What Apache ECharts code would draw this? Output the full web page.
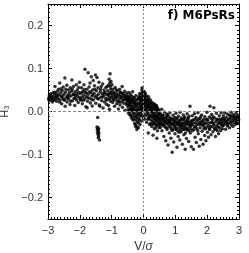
<!DOCTYPE html>
<html><head><meta charset="utf-8">
<script src="https://cdn.jsdelivr.net/npm/echarts@6/dist/echarts.min.js"></script>
<style>html,body{margin:0;padding:0;background:#fff}#c{width:249px;height:253px}</style>
</head><body><div id="c"></div>
<script>
// Data: [V/sigma, H3]
const farLeftBand = [[-2.98,0.030],[-2.96,0.036],[-2.95,0.025],[-2.93,0.033],[-2.91,0.041],[-2.9,0.028],[-2.88,0.035],[-2.86,0.022],[-2.85,0.031],[-2.83,0.044],[-2.81,0.038],[-2.8,0.027],[-2.78,0.058],[-2.77,0.033],[-2.75,0.041],[-2.73,0.024],[-2.72,0.036],[-2.7,0.047],[-2.68,0.03],[-2.67,0.052],[-2.65,0.039],[-2.63,0.066],[-2.62,0.027],[-2.6,0.044],[-2.58,0.035],[-2.57,0.018],[-2.55,0.049],[-2.53,0.031],[-2.52,0.057],[-2.5,0.04],[-2.48,0.026],[-2.47,0.078],[-2.46,0.012],[-2.45,0.045],[-2.43,0.034],[-2.41,0.061],[-2.4,0.022],[-2.38,0.038],[-2.36,0.05],[-2.35,0.029],[-2.33,0.043],[-2.31,0.016],[-2.3,0.055],[-2.28,0.036],[-2.26,0.047],[-2.25,0.073],[-2.23,0.025],[-2.21,0.04],[-2.2,0.058],[-2.18,0.031],[-2.16,0.014],[-2.15,0.046],[-2.13,0.037],[-2.11,0.062],[-2.1,0.027],[-2.08,0.05],[-2.06,0.035],[-2.05,0.021],[-2.03,0.044],[-2.01,0.068],[-2.0,0.032]];
const leftBand = [[-1.98,0.041],[-1.97,0.026],[-1.95,0.055],[-1.93,0.033],[-1.92,0.018],[-1.9,0.047],[-1.88,0.038],[-1.87,0.062],[-1.85,0.029],[-1.84,0.098],[-1.83,0.044],[-1.81,0.011],[-1.8,0.035],[-1.78,0.052],[-1.77,0.009],[-1.76,0.024],[-1.74,0.09],[-1.73,0.04],[-1.71,0.057],[-1.7,0.031],[-1.68,0.066],[-1.67,0.02],[-1.65,0.045],[-1.64,0.081],[-1.62,0.036],[-1.61,0.013],[-1.6,0.05],[-1.58,0.072],[-1.57,0.027],[-1.55,0.042],[-1.54,0.06],[-1.52,0.034],[-1.51,0.085],[-1.5,0.019],[-1.48,0.048],[-1.46,0.079],[-1.45,0.03],[-1.43,0.055],[-1.42,0.04],[-1.4,0.068],[-1.39,0.015],[-1.37,0.012],[-1.36,0.046],[-1.34,0.033],[-1.33,0.058],[-1.31,0.025],[-1.3,0.041],[-1.28,0.064],[-1.27,0.008],[-1.25,0.037],[-1.24,0.05],[-1.22,0.022],[-1.21,0.043],[-1.19,0.031],[-1.18,0.056],[-1.16,0.017],[-1.15,0.039],[-1.13,0.048],[-1.12,0.028],[-1.1,0.061],[-1.09,0.035],[-1.07,0.005],[-1.06,0.044],[-1.05,0.088],[-1.04,0.024],[-1.03,0.052],[-1.02,0.07],[-1.01,0.033],[-1.08,0.075],[-1.06,0.066],[-1.04,0.058],[-1.0,0.045],[-0.99,0.062],[-1.1,0.014]];
const innerLeftBand = [[-0.98,0.038],[-0.97,0.021],[-0.96,0.052],[-0.94,0.03],[-0.93,0.045],[-0.91,0.012],[-0.9,0.036],[-0.89,0.056],[-0.87,0.027],[-0.86,0.041],[-0.84,0.018],[-0.83,0.033],[-0.82,0.048],[-0.8,0.024],[-0.79,0.006],[-0.78,0.039],[-0.76,0.029],[-0.75,0.052],[-0.74,0.015],[-0.72,0.035],[-0.71,0.044],[-0.7,0.022],[-0.68,0.031],[-0.67,0.058],[-0.66,0.01],[-0.64,0.026],[-0.63,0.04],[-0.62,0.019],[-0.6,0.034],[-0.59,0.047],[-0.58,0.003],[-0.56,0.028],[-0.55,0.038],[-0.54,0.016],[-0.52,0.043],[-0.51,0.025],[-0.5,0.032]];
const coreNegative = [[-0.49,0.011],[-0.48,0.036],[-0.47,-0.004],[-0.46,0.024],[-0.45,0.044],[-0.44,0.017],[-0.43,0.03],[-0.42,-0.009],[-0.41,0.006],[-0.4,0.039],[-0.39,0.021],[-0.38,-0.015],[-0.37,0.012],[-0.36,0.028],[-0.35,0.002],[-0.34,0.046],[-0.33,-0.02],[-0.32,0.016],[-0.31,0.033],[-0.3,-0.006],[-0.29,0.009],[-0.28,-0.028],[-0.27,0.024],[-0.26,0.001],[-0.25,-0.035],[-0.24,0.037],[-0.23,-0.012],[-0.22,0.014],[-0.21,-0.042],[-0.2,0.005],[-0.19,-0.024],[-0.18,0.029],[-0.17,-0.008],[-0.16,-0.038],[-0.15,0.019],[-0.14,-0.017],[-0.13,0.008],[-0.12,0.042],[-0.11,-0.03],[-0.1,0.022],[-0.09,-0.004],[-0.08,0.034],[-0.07,0.013],[-0.06,-0.022],[-0.05,0.05],[-0.04,0.026],[-0.03,-0.01],[-0.02,0.04],[-0.01,0.003],[0.0,0.018],[-0.47,0.027],[-0.44,0.003],[-0.41,0.025],[-0.38,0.007],[-0.35,0.022],[-0.32,-0.003],[-0.29,0.02],[-0.26,0.012],[-0.23,0.003],[-0.2,-0.015],[-0.18,0.011],[-0.15,-0.004],[-0.13,0.027],[-0.11,0.005],[-0.09,0.013],[-0.07,-0.01],[-0.05,0.008],[-0.04,0.031],[-0.03,0.045],[-0.02,0.017],[-0.01,0.028],[-0.24,-0.02],[-0.16,0.032],[-0.12,-0.01],[-0.08,0.0],[-0.06,0.024]];
const corePositive = [[0.01,0.047],[0.02,0.012],[0.03,-0.018],[0.04,0.033],[0.05,0.004],[0.06,0.041],[0.07,-0.01],[0.08,0.022],[0.09,0.036],[0.1,-0.025],[0.11,0.009],[0.12,0.027],[0.13,-0.004],[0.14,0.015],[0.15,0.035],[0.16,-0.016],[0.17,0.002],[0.18,0.021],[0.19,-0.03],[0.2,0.011],[0.21,-0.008],[0.22,0.026],[0.23,-0.02],[0.24,0.004],[0.25,0.016],[0.26,-0.035],[0.27,-0.002],[0.28,0.02],[0.29,-0.014],[0.3,0.007],[0.31,-0.026],[0.32,0.013],[0.33,-0.006],[0.34,-0.04],[0.35,0.017],[0.36,-0.018],[0.37,0.002],[0.38,-0.03],[0.39,0.009],[0.4,-0.011],[0.41,0.012],[0.42,-0.022],[0.43,-0.005],[0.44,-0.045],[0.45,0.006],[0.46,-0.015],[0.47,-0.03],[0.48,0.001],[0.49,-0.023],[0.5,-0.008],[0.02,0.03],[0.05,0.022],[0.08,0.005],[0.11,0.018],[0.14,-0.008],[0.17,0.03],[0.2,-0.012],[0.23,0.01],[0.26,0.003],[0.29,-0.022],[0.32,-0.01],[0.35,-0.027],[0.38,0.0],[0.41,-0.033],[0.44,-0.012],[0.47,0.004],[0.15,-0.05],[0.3,-0.055],[0.42,-0.062],[0.36,0.012],[0.4,0.014]];
const rightBand = [[0.51,-0.02],[0.52,-0.004],[0.53,-0.037],[0.55,-0.012],[0.56,-0.026],[0.57,0.005],[0.58,-0.045],[0.6,-0.017],[0.61,-0.031],[0.62,-0.008],[0.64,-0.058],[0.65,-0.022],[0.66,-0.001],[0.68,-0.036],[0.69,-0.015],[0.7,-0.068],[0.71,-0.027],[0.73,-0.006],[0.74,-0.042],[0.75,-0.019],[0.77,-0.078],[0.78,-0.03],[0.79,-0.011],[0.81,-0.05],[0.82,-0.023],[0.83,-0.003],[0.85,-0.036],[0.86,-0.062],[0.87,-0.016],[0.89,-0.028],[0.9,-0.095],[0.91,-0.044],[0.93,-0.009],[0.94,-0.021],[0.95,-0.071],[0.97,-0.034],[0.98,-0.014],[0.99,-0.052],[1.01,-0.025],[1.02,-0.004],[1.03,-0.04],[1.05,-0.083],[1.06,-0.018],[1.07,-0.03],[1.09,-0.058],[1.1,-0.011],[1.11,-0.038],[1.13,-0.022],[1.14,-0.066],[1.15,-0.002],[1.17,-0.033],[1.18,-0.047],[1.19,-0.015],[1.21,-0.027],[1.22,-0.076],[1.23,-0.041],[1.25,-0.008],[1.26,-0.02],[1.27,-0.054],[1.29,-0.031],[1.3,-0.013],[1.31,-0.088],[1.33,-0.037],[1.34,-0.024],[1.35,-0.063],[1.37,-0.005],[1.38,-0.043],[1.39,-0.018],[1.41,-0.029],[1.42,-0.07],[1.43,-0.011],[1.45,-0.035],[1.46,0.012],[1.47,-0.05],[1.49,-0.022],[1.5,-0.082],[0.54,-0.028],[0.59,-0.01],[0.63,-0.033],[0.67,-0.02],[0.72,-0.038],[0.76,-0.008],[0.8,-0.025],[0.84,-0.016],[0.88,-0.042],[0.92,-0.03],[0.96,-0.02],[1.0,-0.035],[1.04,-0.015],[1.08,-0.025],[1.12,-0.048],[1.16,-0.02],[1.2,-0.036],[1.24,-0.028],[1.28,-0.016],[1.32,-0.05],[1.36,-0.03],[1.4,-0.04],[1.44,-0.025],[1.48,-0.033]];
const outerRightBand = [[1.51,-0.03],[1.53,-0.01],[1.54,-0.045],[1.56,-0.02],[1.57,-0.088],[1.59,-0.035],[1.6,-0.005],[1.62,-0.06],[1.63,-0.026],[1.65,-0.014],[1.66,-0.072],[1.68,-0.04],[1.69,-0.022],[1.71,-0.003],[1.72,-0.052],[1.74,-0.03],[1.75,-0.081],[1.77,-0.016],[1.78,-0.038],[1.8,-0.065],[1.81,-0.024],[1.83,-0.008],[1.84,-0.046],[1.86,-0.031],[1.87,-0.076],[1.89,-0.018],[1.9,-0.04],[1.92,-0.056],[1.93,-0.012],[1.95,-0.028],[1.96,-0.068],[1.98,-0.036],[1.99,-0.002],[2.01,-0.048],[2.02,-0.021],[2.04,-0.06],[2.05,-0.033],[2.07,-0.013],[2.08,-0.042],[2.09,0.012],[2.11,-0.026],[2.12,-0.054],[2.14,-0.007],[2.15,-0.035],[2.17,-0.019],[2.18,-0.047],[2.2,-0.028],[2.21,0.009],[2.23,-0.039],[2.24,-0.015],[2.26,-0.058],[2.27,-0.024],[2.29,-0.004],[2.3,-0.033],[2.32,-0.045],[2.33,-0.018],[2.35,-0.028],[2.36,-0.052],[2.38,-0.01],[2.39,-0.037],[2.41,-0.022],[2.42,-0.044],[2.44,-0.003],[2.45,-0.03],[2.47,-0.016],[2.48,-0.04],[2.5,-0.025],[1.55,-0.028],[1.64,-0.036],[1.73,-0.018],[1.82,-0.03],[1.91,-0.026],[2.0,-0.018],[2.1,-0.036],[2.19,-0.012],[2.28,-0.04],[2.37,-0.026],[2.46,-0.02]];
const edgeRightBand = [[2.51,-0.01],[2.52,-0.032],[2.54,-0.02],[2.55,-0.003],[2.57,-0.027],[2.58,-0.041],[2.6,-0.014],[2.61,-0.024],[2.63,-0.006],[2.64,-0.034],[2.66,-0.019],[2.67,-0.028],[2.69,-0.009],[2.7,-0.038],[2.72,-0.016],[2.73,-0.025],[2.75,-0.002],[2.76,-0.031],[2.78,-0.012],[2.79,-0.021],[2.81,-0.035],[2.82,-0.007],[2.84,-0.018],[2.85,-0.026],[2.87,-0.011],[2.88,-0.03],[2.9,-0.016],[2.91,-0.004],[2.93,-0.023],[2.94,-0.013],[2.96,-0.028],[2.97,-0.009],[2.99,-0.019]];
const outlierClump = [[-1.44,-0.014],[-1.46,-0.036],[-1.43,-0.038],[-1.41,-0.04],[-1.45,-0.042],[-1.42,-0.045],[-1.44,-0.048],[-1.4,-0.05],[-1.43,-0.053],[-1.41,-0.057],[-1.42,-0.061],[-1.38,-0.066]];
const fillLeft = [[-2.97,0.027],[-2.94,0.039],[-2.89,0.032],[-2.84,0.026],[-2.79,0.045],[-2.74,0.031],[-2.69,0.038],[-2.64,0.022],[-2.59,0.053],[-2.56,0.036],[-2.51,0.028],[-2.44,0.052],[-2.39,0.031],[-2.34,0.036],[-2.29,0.024],[-2.24,0.052],[-2.19,0.039],[-2.14,0.03],[-2.09,0.041],[-2.04,0.056],[-1.99,0.029],[-1.94,0.044],[-1.89,0.026],[-1.86,0.051],[-1.79,0.043],[-1.75,0.032],[-1.69,0.046],[-1.63,0.028],[-1.59,0.039],[-1.53,0.052],[-1.47,0.036],[-1.41,0.029],[-1.35,0.052],[-1.29,0.034],[-1.23,0.044],[-1.17,0.027],[-1.14,0.058],[-1.11,0.04],[-1.05,0.03],[-1.03,0.042],[-0.95,0.026],[-0.92,0.041],[-0.88,0.033],[-0.85,0.05],[-0.81,0.038],[-0.77,0.022],[-0.73,0.045],[-0.69,0.036],[-0.65,0.042],[-0.61,0.028],[-0.57,0.035],[-0.53,0.02]];
const fillCore = [[-0.495,0.03],[-0.485,0.004],[-0.465,0.015],[-0.455,0.033],[-0.435,-0.002],[-0.425,0.021],[-0.405,0.013],[-0.395,-0.008],[-0.375,0.035],[-0.365,0.004],[-0.345,-0.012],[-0.335,0.026],[-0.315,0.006],[-0.305,-0.018],[-0.285,0.031],[-0.275,-0.011],[-0.255,0.019],[-0.245,-0.03],[-0.225,0.026],[-0.215,-0.005],[-0.195,-0.036],[-0.185,0.018],[-0.165,0.002],[-0.155,-0.026],[-0.135,0.036],[-0.125,-0.02],[-0.105,0.031],[-0.095,0.016],[-0.075,0.041],[-0.065,0.006],[-0.045,0.055],[-0.035,0.014],[-0.015,0.035],[-0.005,-0.015],[0.005,0.038],[0.015,0.022],[0.025,-0.006],[0.035,0.044],[0.045,0.016],[0.065,0.029],[0.075,0.01],[0.095,0.025],[0.105,0.0],[0.125,0.013],[0.135,-0.018],[0.155,0.024],[0.165,0.008],[0.185,-0.014],[0.195,0.017],[0.215,0.001],[0.225,-0.028],[0.245,0.021],[0.255,-0.01],[0.275,0.009],[0.285,-0.03],[0.305,-0.004],[0.315,0.018],[0.335,-0.016],[0.345,0.006],[0.365,-0.01],[0.375,-0.038],[0.395,-0.02],[0.405,0.003],[0.425,-0.014],[0.435,0.008],[0.455,-0.026],[0.465,-0.006],[0.485,-0.037],[0.495,-0.016],[0.525,-0.03],[0.545,-0.008],[0.565,-0.018],[0.585,-0.03],[0.605,-0.024]];
const fillRight = [[0.625,-0.015],[0.655,-0.03],[0.685,-0.024],[0.715,-0.012],[0.745,-0.028],[0.775,-0.02],[0.805,-0.036],[0.835,-0.024],[0.865,-0.03],[0.895,-0.018],[0.925,-0.04],[0.955,-0.028],[0.985,-0.022],[1.015,-0.042],[1.045,-0.028],[1.075,-0.045],[1.105,-0.026],[1.135,-0.032],[1.165,-0.042],[1.195,-0.028],[1.225,-0.018],[1.255,-0.035],[1.285,-0.042],[1.315,-0.025],[1.345,-0.04],[1.375,-0.022],[1.405,-0.015],[1.435,-0.045],[1.465,-0.03],[1.495,-0.04],[1.525,-0.022],[1.585,-0.042],[1.615,-0.018],[1.675,-0.03],[1.705,-0.045],[1.765,-0.026],[1.795,-0.012],[1.855,-0.022],[1.885,-0.034],[1.945,-0.04],[1.975,-0.02],[2.035,-0.028],[2.065,-0.04],[2.125,-0.016],[2.155,-0.025],[2.215,-0.032],[2.245,-0.042],[2.305,-0.02],[2.345,-0.036],[2.395,-0.018],[2.435,-0.028],[2.485,-0.033],[2.535,-0.016],[2.585,-0.022],[2.625,-0.03],[2.685,-0.018],[2.735,-0.01],[2.775,-0.024],[2.835,-0.014],[2.885,-0.02],[2.925,-0.028],[2.975,-0.014]];

const xTicks = [-3, -2, -1, 0, 1, 2, 3];
const yTickLabels = [-0.2, -0.1, 0.0, 0.1, 0.2];

const points = [].concat(farLeftBand, leftBand, innerLeftBand, coreNegative, corePositive, rightBand, outerRightBand, edgeRightBand, outlierClump, fillLeft, fillCore, fillRight);

const labelFont = {fontFamily: 'Liberation Sans', fontSize: 11, color: '#333'};
const minus = s => String(s).replace('-', '\u2212');
const frameLine = {show: true, onZero: false, lineStyle: {color: '#000', width: 1}};
const majTick = {show: true, inside: true, length: 4, lineStyle: {color: '#000', width: 1}};
const minTick = {show: true, splitNumber: 10, length: 2, lineStyle: {color: '#000', width: 1}};

const xBase = {type: 'value', min: xTicks[0], max: xTicks[xTicks.length - 1], interval: 1,
  axisLine: frameLine, axisTick: majTick, minorTick: minTick, splitLine: {show: false}};
const yBase = {type: 'value', min: -0.25, max: 0.25,
  axisLine: frameLine, axisTick: majTick, minorTick: minTick, splitLine: {show: false}};

const chart = echarts.init(document.getElementById('c'), null, {renderer: 'canvas'});
chart.setOption({
  animation: false,
  backgroundColor: '#fff',
  title: {text: 'f) M6PsRs', right: 14, top: 10, padding: 0,
    textStyle: {fontFamily: 'DejaVu Sans', fontWeight: 'bold', fontSize: 12, color: '#000'}},
  grid: {left: 48, right: 10, top: 4, bottom: 34, containLabel: false, outerBoundsMode: 'none'},
  xAxis: [
    Object.assign({}, xBase, {position: 'bottom',
      axisLabel: Object.assign({margin: 6, formatter: v => minus(v)}, labelFont),
      name: 'V/{i|\u03c3}', nameLocation: 'middle', nameGap: 20,
      nameTextStyle: {fontFamily: 'Liberation Sans', fontSize: 12, color: '#333',
        rich: {i: {fontFamily: 'Liberation Sans', fontSize: 12, fontStyle: 'italic', color: '#333'}}}}),
    Object.assign({}, xBase, {position: 'top', axisLabel: {show: false}})
  ],
  yAxis: [
    Object.assign({}, yBase, {position: 'left',
      axisLabel: Object.assign({margin: 5, showMinLabel: false, showMaxLabel: false,
        formatter: v => {
          const hit = yTickLabels.find(t => Math.abs(t - v) < 1e-6);
          return hit === undefined ? '' : minus(hit.toFixed(1));
        }}, labelFont),
      name: 'H\u2083', nameLocation: 'middle', nameGap: 34,
      nameTextStyle: Object.assign({}, labelFont)}),
    Object.assign({}, yBase, {position: 'right', axisLabel: {show: false}})
  ],
  series: [
    {type: 'line', data: [], z: 1, silent: true,
      markLine: {silent: true, symbol: 'none', label: {show: false},
        data: [
          {yAxis: 0, lineStyle: {color: '#888', type: [3, 2], width: 1}},
          {xAxis: 0, lineStyle: {color: '#888', type: [2, 2], width: 1}}
        ]}},
    {type: 'scatter', data: points, z: 3, symbol: 'circle', symbolSize: 3.5,
      itemStyle: {color: '#000'}, xAxisIndex: 0, yAxisIndex: 0}
  ]
});
</script></body></html>
